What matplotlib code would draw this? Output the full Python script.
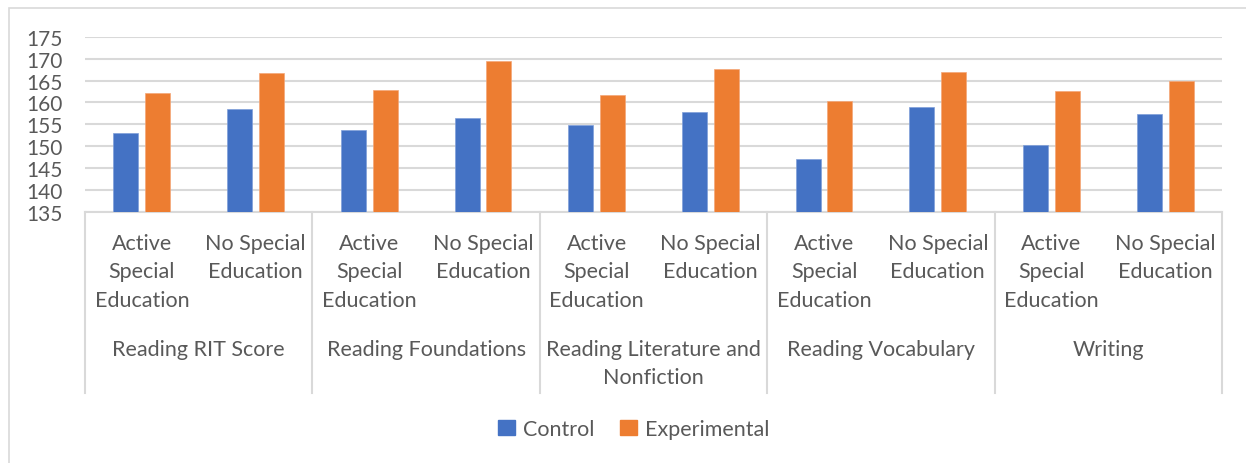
import numpy as np
import matplotlib.pyplot as plt
import matplotlib.patches as mpatches
from matplotlib.lines import Line2D

plt.rcParams['font.family'] = ['Lato', 'DejaVu Sans']

groups = ['Reading RIT Score', 'Reading Foundations', 'Reading Literature and\nNonfiction',
          'Reading Vocabulary', 'Writing']
subs = ['Active\nSpecial\nEducation', 'No Special\nEducation']
control = [153.1, 158.6, 153.8, 156.4, 154.9, 157.8, 147.1, 158.9, 150.4, 157.4]
experimental = [162.1, 166.7, 162.8, 169.5, 161.8, 167.6, 160.4, 166.9, 162.7, 165.0]

blue = '#4472C4'
orange = '#ED7D31'
txt = '#595959'
grid = '#D9D9D9'

W, H = 1246, 464
fig = plt.figure(figsize=(W / 100, H / 100), dpi=100)

# outer chart frame (left and top visible)
fig.add_artist(mpatches.Rectangle((9 / W, -0.1), 1.2, 1 - 9 / H + 0.1, transform=fig.transFigure,
                                  fill=False, edgecolor=grid, linewidth=1.2))

left, right, top, bottom = 85, 1222, 37.7, 213
ax = fig.add_axes([left / W, 1 - bottom / H, (right - left) / W, (bottom - top) / H])

n = len(control)
x = np.arange(n)
bw = 0.22
off = 0.14
ax.bar(x - off, np.array(control) - 135, bw, bottom=135, color=blue, edgecolor='#7f9fd9', linewidth=0.5, zorder=3)
ax.bar(x + off, np.array(experimental) - 135, bw, bottom=135, color=orange, edgecolor='#f4a778', linewidth=0.5, zorder=3)

ax.set_xlim(-0.5, n - 0.5)
ax.set_ylim(135, 175)
ax.set_yticks(np.arange(135, 176, 5))
ax.grid(axis='y', color=grid, linewidth=1.5, zorder=0)
ax.set_xticks([])
for s in ['top', 'right', 'left']:
    ax.spines[s].set_visible(False)
ax.spines['bottom'].set_color(grid)
ax.spines['bottom'].set_linewidth(1.5)
ax.tick_params(axis='y', length=0, labelsize=15, labelcolor=txt, pad=16)

# multi-level category labels
def fy(py):
    return 1 - py / H

for i in range(n):
    cx = (left + (right - left) * (i + 0.5) / n) / W
    fig.text(cx, fy(234), subs[i % 2], ha='center', va='top', fontsize=15.5,
             color=txt, linespacing=1.52)
for g in range(len(groups)):
    cx = (left + (right - left) * (g + 0.5) / len(groups)) / W
    fig.text(cx, fy(340), groups[g], ha='center', va='top', fontsize=15.5,
             color=txt, linespacing=1.52)
for g in range(len(groups) + 1):
    sx = (left + (right - left) * g / len(groups)) / W
    fig.add_artist(Line2D([sx, sx], [fy(213), fy(394)], transform=fig.transFigure,
                          color=grid, linewidth=1.5))

handles = [mpatches.Patch(color=blue, label='Control'),
           mpatches.Patch(color=orange, label='Experimental')]
leg = fig.legend(handles=handles, loc='center', bbox_to_anchor=(634 / W, fy(430)), ncol=2,
                 frameon=False, fontsize=15.5, handlelength=0.75, handleheight=0.75,
                 handletextpad=0.4, columnspacing=1.2)
for t in leg.get_texts():
    t.set_color(txt)

fig.savefig('out.png', dpi=100)
